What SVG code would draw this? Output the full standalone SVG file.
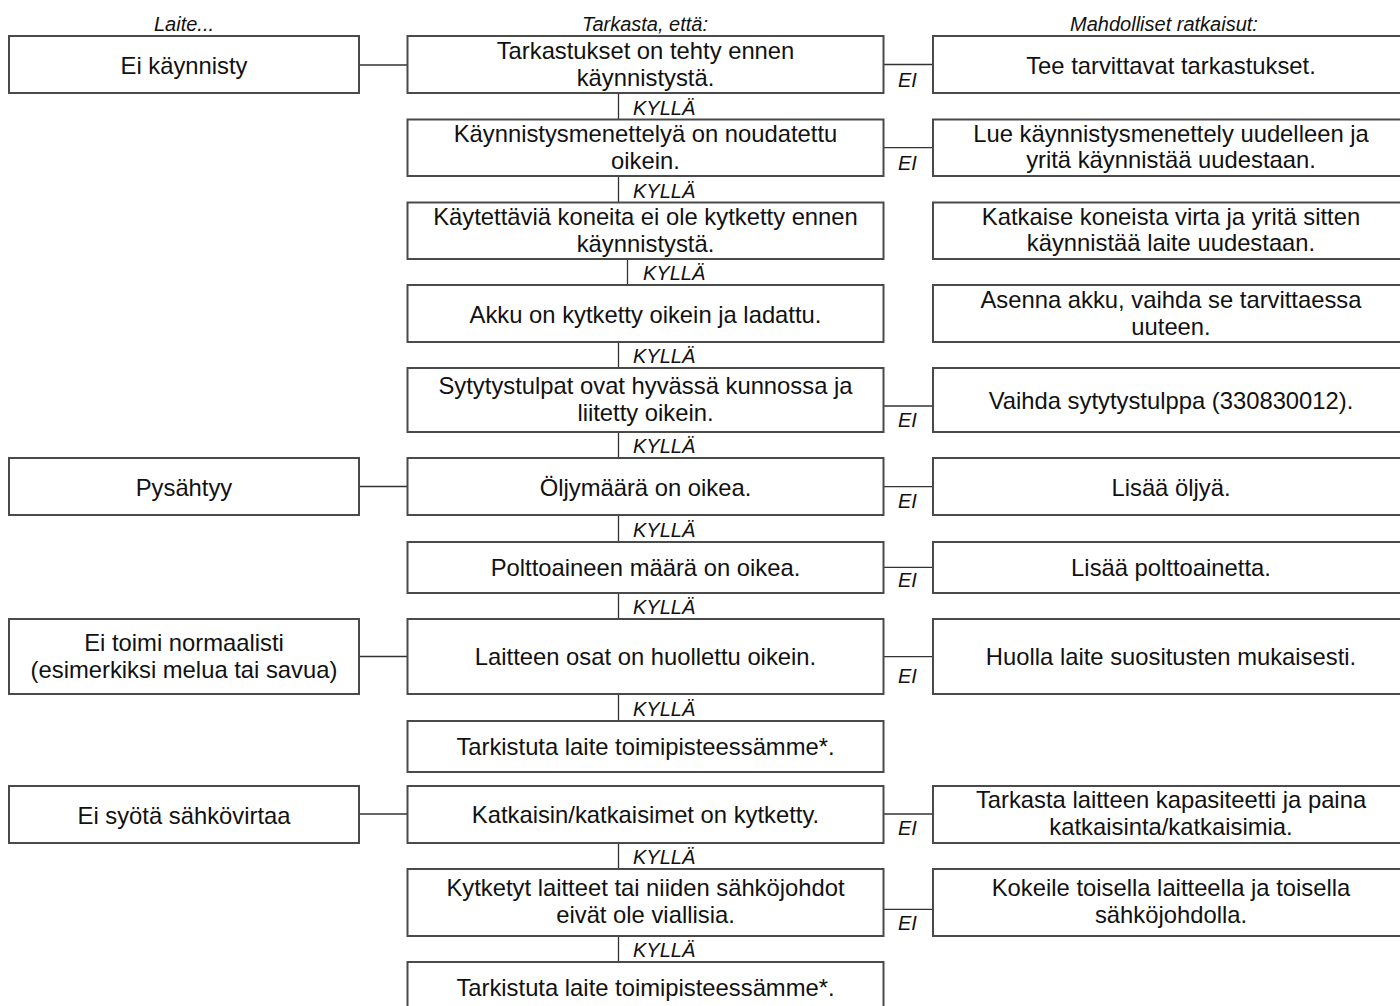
<svg xmlns="http://www.w3.org/2000/svg" width="1400" height="1006" viewBox="0 0 1400 1006">
<style>
.bx{fill:#fff;stroke:#4a4a4a;stroke-width:2}
.t{font-family:"Liberation Sans",Arial,sans-serif;font-size:23.8px;fill:#111;text-anchor:middle}
.h{font-family:"Liberation Sans",Arial,sans-serif;font-size:20px;font-style:italic;fill:#111;text-anchor:middle}
.l{font-family:"Liberation Sans",Arial,sans-serif;font-size:20px;font-style:italic;fill:#111}
.c{stroke:#333;stroke-width:1.3;fill:none}
</style>
<rect width="1400" height="1006" fill="#fff"/>
<g id="headers">
<text class="h" x="184" y="31">Laite...</text>
<text class="h" x="645" y="31">Tarkasta, että:</text>
<text class="h" x="1164" y="31">Mahdolliset ratkaisut:</text>
</g>
<g id="connectors">
<path class="c" d="M359 65H407.5M359 486.5H407.5M359 656.5H407.5M359 814H407.5"/>
<path class="c" d="M883.5 64.5H933M883.5 147.7H933M883.5 406H933M883.5 486.7H933M883.5 567.3H933M883.5 656.7H933M883.5 814H933M883.5 909.3H933"/>
<path class="c" d="M618.5 93V119.5M618.5 176V202.5M627.5 259V285M618.5 342V368M618.5 432V458M618.5 515V542M618.5 593V619M618.5 694V721M618.5 843V869M618.5 936V962"/>
<text class="l" x="633" y="114.5">KYLLÄ</text>
<text class="l" x="633" y="197.5">KYLLÄ</text>
<text class="l" x="643" y="280">KYLLÄ</text>
<text class="l" x="633" y="363">KYLLÄ</text>
<text class="l" x="633" y="453">KYLLÄ</text>
<text class="l" x="633" y="537">KYLLÄ</text>
<text class="l" x="633" y="614">KYLLÄ</text>
<text class="l" x="633" y="716">KYLLÄ</text>
<text class="l" x="633" y="864">KYLLÄ</text>
<text class="l" x="633" y="957">KYLLÄ</text>
<text class="l" x="898" y="86.7">EI</text>
<text class="l" x="898" y="170">EI</text>
<text class="l" x="898" y="426.7">EI</text>
<text class="l" x="898" y="508">EI</text>
<text class="l" x="898" y="587.3">EI</text>
<text class="l" x="898" y="683.3">EI</text>
<text class="l" x="898" y="835">EI</text>
<text class="l" x="898" y="930">EI</text>
</g>
<g id="l1"><rect class="bx" x="9" y="36" width="350" height="57"/><text class="t" x="184" y="73.5">Ei käynnisty</text></g>
<g id="l6"><rect class="bx" x="9" y="458" width="350" height="57"/><text class="t" x="184" y="495.5">Pysähtyy</text></g>
<g id="l8"><rect class="bx" x="9" y="619" width="350" height="75"/><text class="t" x="184" y="650.5">Ei toimi normaalisti</text><text class="t" x="184" y="677.5">(esimerkiksi melua tai savua)</text></g>
<g id="l10"><rect class="bx" x="9" y="786" width="350" height="57"/><text class="t" x="184" y="823.5">Ei syötä sähkövirtaa</text></g>
<g id="m1"><rect class="bx" x="407.5" y="36" width="476" height="57"/><text class="t" x="645.5" y="58.5">Tarkastukset on tehty ennen</text><text class="t" x="645.5" y="85.5">käynnistystä.</text></g>
<g id="m2"><rect class="bx" x="407.5" y="119.5" width="476" height="56.5"/><text class="t" x="645.5" y="141.7">Käynnistysmenettelyä on noudatettu</text><text class="t" x="645.5" y="168.5">oikein.</text></g>
<g id="m3"><rect class="bx" x="407.5" y="202.5" width="476" height="56.5"/><text class="t" x="645.5" y="224.7">Käytettäviä koneita ei ole kytketty ennen</text><text class="t" x="645.5" y="251.5">käynnistystä.</text></g>
<g id="m4"><rect class="bx" x="407.5" y="285" width="476" height="57"/><text class="t" x="645.5" y="322.5">Akku on kytketty oikein ja ladattu.</text></g>
<g id="m5"><rect class="bx" x="407.5" y="368" width="476" height="64"/><text class="t" x="645.5" y="394">Sytytystulpat ovat hyvässä kunnossa ja</text><text class="t" x="645.5" y="421">liitetty oikein.</text></g>
<g id="m6"><rect class="bx" x="407.5" y="458" width="476" height="57"/><text class="t" x="645.5" y="495.5">Öljymäärä on oikea.</text></g>
<g id="m7"><rect class="bx" x="407.5" y="542" width="476" height="51"/><text class="t" x="645.5" y="576">Polttoaineen määrä on oikea.</text></g>
<g id="m8"><rect class="bx" x="407.5" y="619" width="476" height="75"/><text class="t" x="645.5" y="665">Laitteen osat on huollettu oikein.</text></g>
<g id="m9"><rect class="bx" x="407.5" y="721" width="476" height="51"/><text class="t" x="645.5" y="755">Tarkistuta laite toimipisteessämme*.</text></g>
<g id="m10"><rect class="bx" x="407.5" y="786" width="476" height="57"/><text class="t" x="645.5" y="823">Katkaisin/katkaisimet on kytketty.</text></g>
<g id="m11"><rect class="bx" x="407.5" y="869" width="476" height="67"/><text class="t" x="645.5" y="896">Kytketyt laitteet tai niiden sähköjohdot</text><text class="t" x="645.5" y="923">eivät ole viallisia.</text></g>
<g id="m12"><rect class="bx" x="407.5" y="962" width="476" height="60"/><text class="t" x="645.5" y="996">Tarkistuta laite toimipisteessämme*.</text></g>
<g id="r1"><rect class="bx" x="933" y="36" width="480" height="57"/><text class="t" x="1171" y="74">Tee tarvittavat tarkastukset.</text></g>
<g id="r2"><rect class="bx" x="933" y="119.5" width="480" height="56.5"/><text class="t" x="1171" y="141.7">Lue käynnistysmenettely uudelleen ja</text><text class="t" x="1171" y="167.7">yritä käynnistää uudestaan.</text></g>
<g id="r3"><rect class="bx" x="933" y="202.5" width="480" height="56.5"/><text class="t" x="1171" y="224.7">Katkaise koneista virta ja yritä sitten</text><text class="t" x="1171" y="251">käynnistää laite uudestaan.</text></g>
<g id="r4"><rect class="bx" x="933" y="285" width="480" height="57"/><text class="t" x="1171" y="308">Asenna akku, vaihda se tarvittaessa</text><text class="t" x="1171" y="334.5">uuteen.</text></g>
<g id="r5"><rect class="bx" x="933" y="368" width="480" height="64"/><text class="t" x="1171" y="409">Vaihda sytytystulppa (330830012).</text></g>
<g id="r6"><rect class="bx" x="933" y="458" width="480" height="57"/><text class="t" x="1171" y="495.5">Lisää öljyä.</text></g>
<g id="r7"><rect class="bx" x="933" y="542" width="480" height="51"/><text class="t" x="1171" y="576">Lisää polttoainetta.</text></g>
<g id="r8"><rect class="bx" x="933" y="619" width="480" height="75"/><text class="t" x="1171" y="665">Huolla laite suositusten mukaisesti.</text></g>
<g id="r10"><rect class="bx" x="933" y="786" width="480" height="57"/><text class="t" x="1171" y="808">Tarkasta laitteen kapasiteetti ja paina</text><text class="t" x="1171" y="835">katkaisinta/katkaisimia.</text></g>
<g id="r11"><rect class="bx" x="933" y="869" width="480" height="67"/><text class="t" x="1171" y="896">Kokeile toisella laitteella ja toisella</text><text class="t" x="1171" y="923">sähköjohdolla.</text></g>
</svg>
